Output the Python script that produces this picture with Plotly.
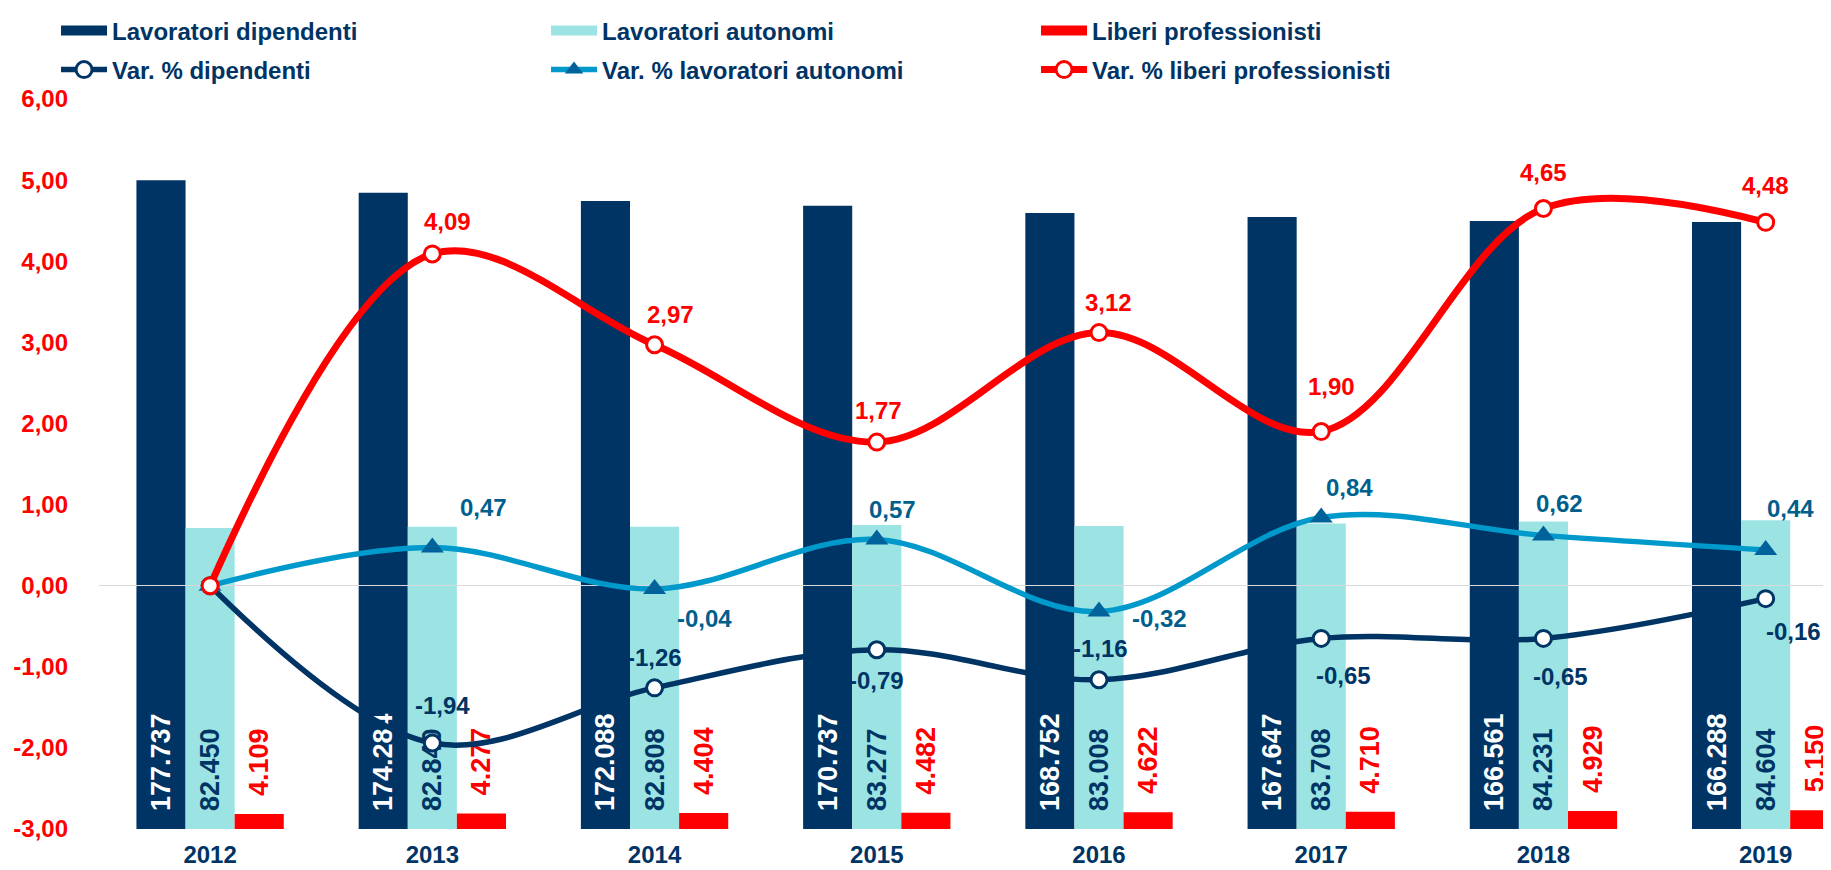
import plotly.graph_objects as go

# ---------------- data ----------------
years = ["2012", "2013", "2014", "2015", "2016", "2017", "2018", "2019"]
dipendenti = [177737, 174284, 172088, 170737, 168752, 167647, 166561, 166288]
autonomi = [82450, 82840, 82808, 83277, 83008, 83708, 84231, 84604]
liberi = [4109, 4277, 4404, 4482, 4622, 4710, 4929, 5150]
var_dip = [0, -1.94, -1.26, -0.79, -1.16, -0.65, -0.65, -0.16]
var_aut = [0, 0.47, -0.04, 0.57, -0.32, 0.84, 0.62, 0.44]
var_lib = [0, 4.09, 2.97, 1.77, 3.12, 1.90, 4.65, 4.48]
y_tickvals = [-3, -2, -1, 0, 1, 2, 3, 4, 5, 6]
y_ticktext = ["-3,00", "-2,00", "-1,00", "0,00", "1,00", "2,00", "3,00", "4,00", "5,00", "6,00"]

# ---------------- label offsets (px, style only) ----------------
dip_dx = [0, 10, 0, 0, 1, 22, 17, 28]
dip_dy = [0, 38, 30, -31, 31, -37, -38, -33]
aut_dx = [0, 51, 50, 16, 60, 28, 16, 25]
aut_dy = [0, 40, -30, 30, -7, 30, 32, 41]
lib_dx = [0, 15, 16, 2, 9, 10, 0, 0]
lib_dy = [0, 32, 30, 32, 30, 45, 36, 37]

# ---------------- style ----------------
FONT = "Liberation Sans, Arial, sans-serif"
NAVY = "#003464"
CYAN = "#9CE4E4"
RED = "#FF0000"
BLUE_LINE = "#0099CC"
BLUE_MARK = "#00629B"
BLUE_TEXT = "#005F8C"
PAD = "\u00a0\u00a0"


def thousands(v):
    return f"{v:,}".replace(",", ".")


def dec(v):
    return f"{v:.2f}".replace(".", ",")


fig = go.Figure()

bar_common = dict(xaxis="x", yaxis="y", showlegend=False, marker_line_width=0,
                  textangle=-90, constraintext="none", cliponaxis=False)

fig.add_trace(go.Bar(x=years, y=dipendenti, name="Lavoratori dipendenti",
                     marker_color=NAVY,
                     text=[PAD + thousands(v) for v in dipendenti],
                     textposition="inside", insidetextanchor="start",
                     textfont=dict(family=FONT, size=27, color="white", weight=700),
                     **bar_common))
fig.add_trace(go.Bar(x=years, y=autonomi, name="Lavoratori autonomi",
                     marker_color=CYAN,
                     text=[PAD + thousands(v) for v in autonomi],
                     textposition="inside", insidetextanchor="start",
                     textfont=dict(family=FONT, size=27, color=NAVY, weight=700),
                     **bar_common))
fig.add_trace(go.Bar(x=years, y=liberi, name="Liberi professionisti",
                     marker_color=RED,
                     text=[PAD + thousands(v) for v in liberi],
                     textposition="outside",
                     textfont=dict(family=FONT, size=27, color=RED, weight=700),
                     **bar_common))

# legend entries for the bar series (wide swatches)
for nm, col in [("Lavoratori dipendenti", NAVY), ("Lavoratori autonomi", CYAN),
                ("Liberi professionisti", RED)]:
    fig.add_trace(go.Scatter(x=[None], y=[None], mode="lines", name=nm,
                             line=dict(color=col, width=12),
                             xaxis="x2", yaxis="y2", legend="legend",
                             hoverinfo="skip"))

fig.add_trace(go.Scatter(x=years, y=var_dip, name="Var. % dipendenti",
                         mode="lines+markers", xaxis="x2", yaxis="y2", legend="legend2",
                         line=dict(color=NAVY, width=5.5, shape="spline", smoothing=1),
                         marker=dict(symbol="circle", size=16, color="white",
                                     line=dict(color=NAVY, width=3))))
fig.add_trace(go.Scatter(x=years, y=var_aut, name="Var. % lavoratori autonomi",
                         mode="lines+markers", xaxis="x2", yaxis="y2", legend="legend2",
                         line=dict(color=BLUE_LINE, width=5.5, shape="spline", smoothing=1),
                         marker=dict(symbol="triangle-up", size=20, color=BLUE_MARK,
                                     line=dict(width=0))))
fig.add_trace(go.Scatter(x=years, y=var_lib, name="Var. % liberi professionisti",
                         mode="lines+markers", xaxis="x2", yaxis="y2", legend="legend2",
                         line=dict(color=RED, width=7, shape="spline", smoothing=1),
                         marker=dict(symbol="circle", size=16, color="white",
                                     line=dict(color=RED, width=3))))

annotations = []
for vals, dxs, dys, col in [(var_dip, dip_dx, dip_dy, NAVY),
                            (var_aut, aut_dx, aut_dy, BLUE_TEXT),
                            (var_lib, lib_dx, lib_dy, RED)]:
    for i, v in enumerate(vals):
        if i == 0:
            continue
        annotations.append(dict(x=i, y=v, xref="x2", yref="y2", text=dec(v),
                                showarrow=False, xshift=dxs[i], yshift=dys[i],
                                xanchor="center", yanchor="middle",
                                font=dict(family=FONT, size=24, color=col, weight=700)))

legend_common = dict(orientation="h", xanchor="left", yanchor="middle",
                     x=-0.0247, itemwidth=46, entrywidth=429, entrywidthmode="pixels",
                     bgcolor="rgba(0,0,0,0)", borderwidth=0, traceorder="normal",
                     font=dict(family=FONT, size=24, color=NAVY, weight=700))

fig.update_layout(
    width=1831, height=870,
    margin=dict(l=91, r=0, t=91, b=49, autoexpand=False),
    paper_bgcolor="white", plot_bgcolor="rgba(0,0,0,0)",
    barmode="group", bargap=0.337, bargroupgap=0,
    separators=",.",
    xaxis=dict(type="category", range=[-0.5, 7.33], showgrid=False, zeroline=False,
               showline=False, ticks="", ticklabelstandoff=9, automargin=False,
               tickfont=dict(family=FONT, size=24, color=NAVY, weight=700)),
    yaxis=dict(range=[0, 200000], visible=False, showgrid=False, zeroline=False),
    xaxis2=dict(type="category", matches="x", visible=False, anchor="y2"),
    yaxis2=dict(anchor="x2", range=[-3, 6], tickmode="array", tickvals=y_tickvals,
                ticktext=y_ticktext, showgrid=False, zeroline=True, automargin=False,
                zerolinecolor="#D9D9D9", zerolinewidth=1, showline=False, ticks="",
                ticklabelstandoff=30,
                tickfont=dict(family=FONT, size=24, color=RED, weight=700)),
    legend=dict(y=1.0932, **legend_common),
    legend2=dict(y=1.0397, **legend_common),
    annotations=annotations,
    showlegend=True,
)

fig.write_html("out.html")
